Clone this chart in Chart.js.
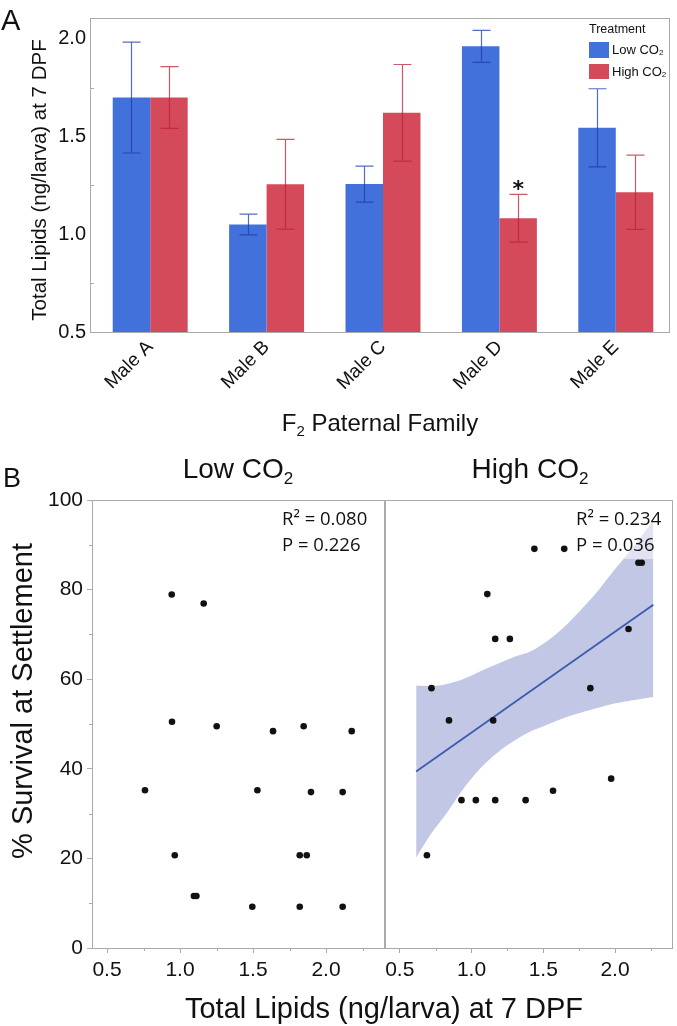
<!DOCTYPE html>
<html>
<head>
<meta charset="utf-8">
<script src="https://cdn.jsdelivr.net/npm/chart.js@4.4.1/dist/chart.umd.min.js"></script>
<style>
  html, body { margin: 0; padding: 0; background: #fff; }
  #wrap { position: relative; width: 677px; height: 1026px; }
  canvas { position: absolute; left: 0; }
</style>
</head>
<body>
<div id="wrap">
  <canvas id="barChart" width="677" height="450" style="top:0"></canvas>
  <canvas id="lowChart" width="677" height="576" style="top:450px"></canvas>
  <canvas id="highChart" width="677" height="576" style="top:450px"></canvas>
</div>
<script>
// panel A - total lipids by paternal family
const families = ['Male A', 'Male B', 'Male C', 'Male D', 'Male E'];
const lowMean = [1.70, 1.05, 1.257, 1.962, 1.545];
const lowSE = [0.284, 0.053, 0.092, 0.082, 0.200];
const highMean = [1.70, 1.256, 1.622, 1.082, 1.215];
const highSE = [0.158, 0.230, 0.247, 0.122, 0.190];
const lipidBarTicks = [0.5, 1.0, 1.5, 2.0];
const lipidBarMinor = [0.75, 1.25, 1.75];

// panel B - survival vs lipids
const lowLipids = [0.943, 1.162, 0.945, 1.251, 1.637, 1.847, 2.176, 0.760, 1.530, 1.897, 2.114, 0.964, 1.820, 1.868, 1.095, 1.112, 1.495, 1.820, 2.114];
const lowSurvival = [78.9, 76.9, 50.5, 49.5, 48.4, 49.5, 48.4, 35.2, 35.2, 34.8, 34.8, 20.7, 20.7, 20.7, 11.6, 11.6, 9.2, 9.2, 9.2];
const highLipids = [1.438, 1.646, 2.163, 2.186, 1.110, 1.165, 1.267, 2.094, 0.721, 1.828, 0.843, 1.151, 1.973, 1.568, 0.930, 1.030, 1.165, 1.377, 0.689];
const highSurvival = [89.1, 89.1, 86.0, 86.0, 79.0, 69.0, 69.0, 71.2, 58.0, 58.0, 50.8, 50.8, 37.8, 35.1, 33.0, 33.0, 33.0, 33.0, 20.7];
const fitLipids = [0.614, 2.267];
const fitSurvival = [39.4, 76.6];
const bandLipids = [0.614, 0.72, 0.82, 0.94, 1.07, 1.18, 1.30, 1.41, 1.53, 1.64, 1.76, 1.87, 1.96, 2.07, 2.17, 2.267];
const bandUpper = [58.6, 58.5, 58.9, 60.0, 61.9, 63.4, 65.0, 66.2, 68.6, 71.5, 75.4, 79.3, 83.0, 87.3, 91.3, 95.5];
const bandLower = [20.2, 25.6, 29.8, 35.4, 40.4, 43.6, 46.3, 48.3, 49.9, 51.3, 52.5, 53.5, 54.3, 55.0, 55.5, 56.0];
const lipidTicks = [0.5, 1.0, 1.5, 2.0];
const lipidMinor = [0.75, 1.25, 1.75, 2.25];
const survivalTicks = [0, 20, 40, 60, 80, 100];
const survivalMinor = [10, 30, 50, 70, 90];

const FONT = "'Liberation Sans', Arial, Helvetica, sans-serif";
const BLUE = '#4371dc';
const RED = '#d44a5a';
const FRAME = '#ababab';

function drawParts(ctx, parts, x, y, size, align) {
    const main = size + 'px ' + FONT;
    const small = Math.round(size * 0.62) + 'px ' + FONT;
    let w = 0;
    parts.forEach(p => { ctx.font = p.sub ? small : main; w += ctx.measureText(p.t).width; });
    let cx = align === 'center' ? x - w / 2 : x;
    ctx.textAlign = 'left';
    parts.forEach(p => {
        ctx.font = p.sub ? small : main;
        ctx.fillText(p.t, cx, p.sub ? y + size * 0.22 : y);
        cx += ctx.measureText(p.t).width;
    });
}

function rotatedText(ctx, text, cx, cy, font) {
    ctx.save();
    ctx.translate(cx, cy);
    ctx.rotate(-Math.PI / 2);
    ctx.font = font;
    ctx.textAlign = 'center';
    ctx.textBaseline = 'middle';
    ctx.fillText(text, 0, 0);
    ctx.restore();
}

// error bars, frame, legend and labels for panel A
const barExtras = {
    id: 'barExtras',
    afterDatasetsDraw(chart) {
        const ctx = chart.ctx;
        const y = chart.scales.y;
        const errs = [lowSE, highSE];
        const errColors = ['rgba(30,60,170,0.75)', 'rgba(185,35,55,0.75)'];
        ctx.save();
        chart.data.datasets.forEach((ds, di) => {
            const meta = chart.getDatasetMeta(di);
            ctx.strokeStyle = errColors[di];
            ctx.lineWidth = 1.2;
            meta.data.forEach((bar, i) => {
                const top = y.getPixelForValue(ds.data[i] + errs[di][i]);
                const bot = y.getPixelForValue(ds.data[i] - errs[di][i]);
                const x = Math.round(bar.x) + 0.5;
                ctx.beginPath();
                ctx.moveTo(x, top); ctx.lineTo(x, bot);
                ctx.moveTo(x - 9, top); ctx.lineTo(x + 9, top);
                ctx.moveTo(x - 9, bot); ctx.lineTo(x + 9, bot);
                ctx.stroke();
            });
        });

        // significance mark over Male D high CO2
        const dBar = chart.getDatasetMeta(1).data[3];
        ctx.fillStyle = '#111';
        ctx.font = "bold 22px 'DejaVu Sans', sans-serif";
        ctx.textAlign = 'center';
        ctx.textBaseline = 'alphabetic';
        ctx.fillText('*', dBar.x, y.getPixelForValue(highMean[3] + highSE[3]) + 2);

        // frame
        ctx.strokeStyle = FRAME;
        ctx.lineWidth = 1;
        ctx.strokeRect(90.5, 18.5, 579, 314);
        ctx.beginPath();
        lipidBarMinor.forEach(v => {
            const py = Math.round(y.getPixelForValue(v)) + 0.5;
            ctx.moveTo(91, py); ctx.lineTo(94, py);
        });
        ctx.stroke();

        // legend
        ctx.fillStyle = '#111';
        ctx.textBaseline = 'alphabetic';
        ctx.textAlign = 'left';
        ctx.font = '12.5px ' + FONT;
        ctx.fillText('Treatment', 589, 33);
        ctx.fillStyle = BLUE;
        ctx.fillRect(589, 42, 20, 16);
        ctx.fillStyle = RED;
        ctx.fillRect(589, 64, 20, 15);
        ctx.fillStyle = '#111';
        ctx.textBaseline = 'middle';
        drawParts(ctx, [{t: 'Low CO'}, {t: '2', sub: true}], 612, 50, 13, 'left');
        drawParts(ctx, [{t: 'High CO'}, {t: '2', sub: true}], 612, 72, 13, 'left');

        // titles
        ctx.textBaseline = 'alphabetic';
        ctx.font = '29px ' + FONT;
        ctx.fillText('A', 1, 30);
        drawParts(ctx, [{t: 'F'}, {t: '2', sub: true}, {t: ' Paternal Family'}], 380, 431, 24, 'center');
        rotatedText(ctx, 'Total Lipids (ng/larva) at 7 DPF', 40, 180, '20.5px ' + FONT);
        ctx.restore();
    }
};

new Chart(document.getElementById('barChart'), {
    type: 'bar',
    data: {
        labels: families,
        datasets: [
            { label: 'Low CO2', data: lowMean, backgroundColor: BLUE, borderWidth: 0 },
            { label: 'High CO2', data: highMean, backgroundColor: RED, borderWidth: 0 }
        ]
    },
    options: {
        responsive: false,
        animation: false,
        layout: { padding: { top: 18, right: 3, left: 0, bottom: 0 } },
        datasets: { bar: { categoryPercentage: 0.644, barPercentage: 1 } },
        plugins: { legend: { display: false }, tooltip: { enabled: false } },
        scales: {
            x: {
                grid: { display: false, drawTicks: false },
                border: { display: false },
                ticks: { autoSkip: false, minRotation: 45, maxRotation: 45, padding: 4, color: '#111', font: { family: FONT, size: 19 } },
                afterFit: s => { s.height = 118; }
            },
            y: {
                min: 0.5,
                max: 2.107,
                afterBuildTicks: s => { s.ticks = lipidBarTicks.map(v => ({ value: v })); },
                grid: { display: false, drawTicks: false },
                border: { display: false },
                ticks: { padding: 6, color: '#111', font: { family: FONT, size: 20 }, callback: v => v.toFixed(1) },
                afterFit: s => { s.width = 92; }
            }
        }
    },
    plugins: [barExtras]
});

// frame, minor ticks and labels for each scatter panel
function panelExtras(side) {
    return {
        id: 'panelExtras' + side,
        afterDatasetDraw(chart, args) {
            // soft box behind the statistics text, over the band
            if (side === 'high' && args.index === 2) {
                const ctx = chart.ctx;
                ctx.save();
                ctx.fillStyle = 'rgba(255,255,255,0.5)';
                ctx.fillRect(572, 53, 92, 56);
                ctx.restore();
            }
        },
        afterDraw(chart) {
            const ctx = chart.ctx;
            const a = chart.chartArea;
            const xs = chart.scales.x, ys = chart.scales.y;
            ctx.save();
            ctx.strokeStyle = FRAME;
            ctx.lineWidth = 1;
            ctx.strokeRect(Math.round(a.left) + 0.5, Math.round(a.top) + 0.5, Math.round(a.right - a.left) - 1, Math.round(a.bottom - a.top));
            ctx.beginPath();
            lipidMinor.forEach(v => {
                const px = Math.round(xs.getPixelForValue(v)) + 0.5;
                ctx.moveTo(px, a.bottom); ctx.lineTo(px, a.bottom + 3);
            });
            if (side === 'low') {
                survivalMinor.forEach(v => {
                    const py = Math.round(ys.getPixelForValue(v)) + 0.5;
                    ctx.moveTo(a.left - 3, py); ctx.lineTo(a.left, py);
                });
            }
            ctx.stroke();

            ctx.fillStyle = '#111';
            ctx.textBaseline = 'alphabetic';
            const statFont = "18.5px 'Open Sans', sans-serif";
            if (side === 'low') {
                ctx.font = '27px ' + FONT;
                ctx.textAlign = 'left';
                ctx.fillText('B', 3, 37);
                drawParts(ctx, [{t: 'Low CO'}, {t: '2', sub: true}], 238, 28, 28, 'center');
                rotatedText(ctx, '% Survival at Settlement', 24, 251, '29px ' + FONT);
                ctx.font = '29px ' + FONT;
                ctx.textAlign = 'center';
                ctx.fillText('Total Lipids (ng/larva) at 7 DPF', 384, 568);
                ctx.font = statFont;
                ctx.textAlign = 'left';
                ctx.fillText('R\u00b2 = 0.080', 282, 75);
                ctx.fillText('P = 0.226', 282, 101);
            } else {
                drawParts(ctx, [{t: 'High CO'}, {t: '2', sub: true}], 530, 28, 28, 'center');
                ctx.font = statFont;
                ctx.textAlign = 'left';
                ctx.fillText('R\u00b2 = 0.234', 576, 75);
                ctx.fillText('P = 0.036', 576, 101);
            }
            ctx.restore();
        }
    };
}

function scatterChart(id, side, lipids, survival) {
    const datasets = [{
        type: 'scatter',
        data: lipids.map((v, i) => ({ x: v, y: survival[i] })),
        pointRadius: 3.3,
        pointBackgroundColor: '#111',
        pointBorderWidth: 0,
        showLine: false
    }];
    if (side === 'high') {
        datasets.push({
            type: 'line',
            data: fitLipids.map((v, i) => ({ x: v, y: fitSurvival[i] })),
            borderColor: '#3a5db0',
            borderWidth: 1.8,
            pointRadius: 0,
            fill: false
        }, {
            type: 'line',
            data: bandLipids.map((v, i) => ({ x: v, y: bandUpper[i] })),
            borderColor: 'transparent',
            backgroundColor: 'rgb(195,199,230)',
            pointRadius: 0,
            tension: 0.3,
            fill: '+1'
        }, {
            type: 'line',
            data: bandLipids.map((v, i) => ({ x: v, y: bandLower[i] })),
            borderColor: 'transparent',
            pointRadius: 0,
            tension: 0.3,
            fill: false
        });
    }
    const tickFont = { family: FONT, size: 21 };
    return new Chart(document.getElementById(id), {
        type: 'scatter',
        data: { datasets },
        options: {
            responsive: false,
            animation: false,
            layout: { padding: side === 'low' ? { left: 0, right: 292, top: 50, bottom: 0 } : { left: 385, right: 1, top: 50, bottom: 0 } },
            plugins: { legend: { display: false }, tooltip: { enabled: false } },
            scales: {
                x: {
                    type: 'linear',
                    min: 0.397,
                    max: 2.404,
                    afterBuildTicks: s => { s.ticks = lipidTicks.map(v => ({ value: v })); },
                    grid: { drawOnChartArea: false, tickLength: 5, tickColor: FRAME },
                    border: { display: false },
                    ticks: { padding: 5, color: '#111', font: tickFont, callback: v => v.toFixed(1) },
                    afterFit: s => { s.height = 78; }
                },
                y: {
                    display: side === 'low',
                    min: 0,
                    max: 100,
                    afterBuildTicks: s => { s.ticks = survivalTicks.map(v => ({ value: v })); },
                    grid: { drawOnChartArea: false, tickLength: 5, tickColor: FRAME },
                    border: { display: false },
                    ticks: { padding: 4, color: '#111', font: tickFont },
                    afterFit: s => { s.width = side === 'low' ? 92 : 0; }
                }
            }
        },
        plugins: [panelExtras(side)]
    });
}

scatterChart('lowChart', 'low', lowLipids, lowSurvival);
scatterChart('highChart', 'high', highLipids, highSurvival);
</script>
</body>
</html>
